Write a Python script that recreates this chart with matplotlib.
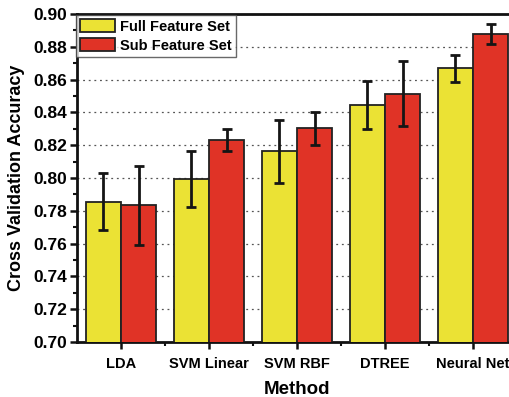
import matplotlib
matplotlib.use("Agg")
import matplotlib.pyplot as plt
import numpy as np
from matplotlib.ticker import MultipleLocator

methods = ["LDA", "SVM Linear", "SVM RBF", "DTREE", "Neural Net"]
full_acc = [0.7856, 0.7996, 0.8162, 0.8443, 0.8668]
full_err = [0.0172, 0.0170, 0.0192, 0.0146, 0.0085]
sub_acc = [0.7833, 0.8233, 0.8303, 0.8514, 0.8878]
sub_err = [0.0240, 0.0067, 0.0099, 0.0199, 0.0059]
series_names = ["Full Feature Set", "Sub Feature Set"]

plt.rcParams["font.family"] = ["Liberation Sans", "DejaVu Sans"]
plt.rcParams["font.weight"] = "bold"

fig = plt.figure(figsize=(5.09, 3.97), dpi=100)
ax = fig.add_axes([0.1513, 0.1385, 0.8644, 0.8262])

x = np.arange(len(methods))
w = 0.4
err_kw = dict(ecolor="#151515", elinewidth=2.0, capsize=3.5, capthick=2.0)
ax.bar(x - w / 2, full_acc, w, yerr=full_err, color="#ebe234", edgecolor="#222222",
       linewidth=1.3, label=series_names[0], error_kw=err_kw, zorder=3)
ax.bar(x + w / 2, sub_acc, w, yerr=sub_err, color="#e03326", edgecolor="#222222",
       linewidth=1.3, label=series_names[1], error_kw=err_kw, zorder=3)

ax.set_xlim(-0.5, len(methods) - 0.5)
ax.set_ylim(0.70, 0.90)
ax.yaxis.set_major_locator(MultipleLocator(0.02))
ax.yaxis.set_minor_locator(MultipleLocator(0.01))
ax.set_xticks(x)
ax.set_xticks(np.arange(len(methods) - 1) + 0.5, minor=True)
ax.set_xticklabels(methods, fontsize=10.5, fontweight="bold")
ax.set_yticklabels([f"{v:.2f}" for v in ax.get_yticks()], fontsize=12.5, fontweight="bold")

ax.grid(axis="y", which="major", linestyle=(0, (1.5, 3)), color="#555555", linewidth=0.9, zorder=0)

for s in ax.spines.values():
    s.set_linewidth(2.0)
    s.set_color("#111111")
ax.tick_params(axis="both", which="major", direction="out", length=5, width=1.8, color="#111111")
ax.tick_params(axis="both", which="minor", direction="out", length=3, width=1.5, color="#111111")
ax.tick_params(axis="x", pad=6)
ax.tick_params(axis="y", pad=2)

ax.set_xlabel("Method", fontsize=13.5, fontweight="bold", labelpad=7)
ax.set_ylabel("Cross Validation Accuracy", fontsize=13, fontweight="bold", labelpad=6)

leg = ax.legend(loc="upper left", bbox_to_anchor=(-0.005, 1.0), fontsize=10.5, frameon=True,
                fancybox=False, edgecolor="#444444", borderaxespad=0.05,
                handlelength=2.4, handleheight=1.0, borderpad=0.3, labelspacing=0.3,
                handletextpad=0.35)
leg.get_frame().set_linewidth(1.0)
for t in leg.get_texts():
    t.set_fontweight("bold")

fig.savefig("out.png", dpi=100)
